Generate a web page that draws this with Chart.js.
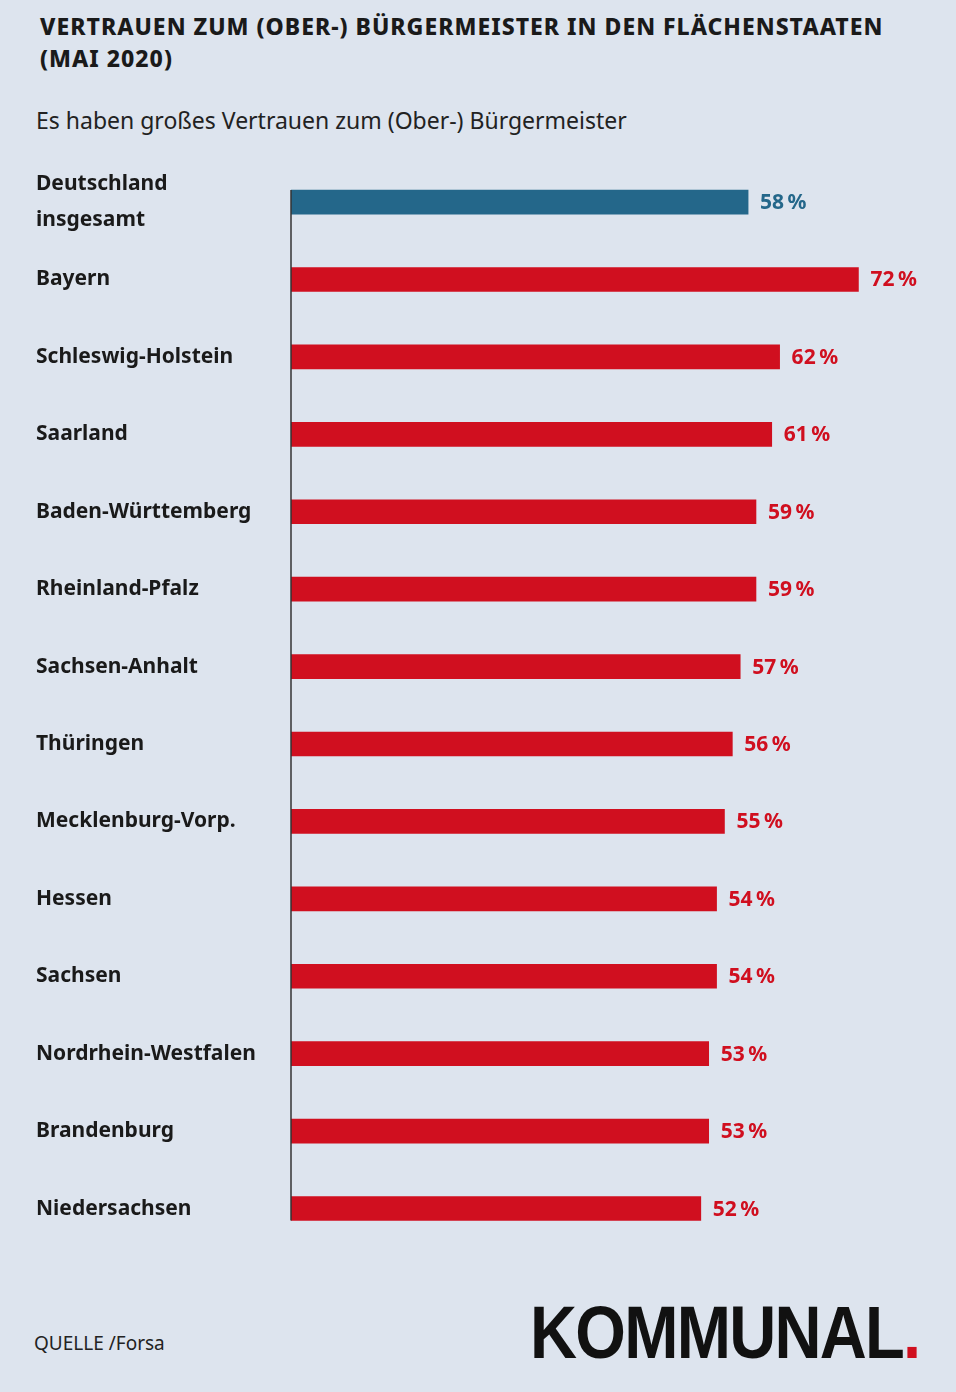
<!DOCTYPE html>
<html><head><meta charset="utf-8">
<script src="https://cdn.jsdelivr.net/npm/chart.js@4"></script>
<style>
  body { margin:0; background:#dde4ee; width:956px; height:1392px; position:relative; font-family:"Noto Sans", sans-serif; color:#1a1a1a; overflow:hidden; }
  h1 { position:absolute; left:40px; top:10px; margin:0; font-size:23px; line-height:32px; font-weight:800; letter-spacing:1px; width:880px; }
  .sub { position:absolute; left:36px; top:104px; font-size:23px; color:#222; }
  .src { position:absolute; left:34px; top:1330px; font-size:19px; color:#222; }
  .logo { position:absolute; left:530px; top:1290px; font-family:"Liberation Sans", sans-serif; font-weight:700; font-size:74px; letter-spacing:-2px; color:#111; transform:scaleX(0.88); transform-origin:left; }
  .logo span { color:#d00f1f; }
  #wrap { position:absolute; left:0; top:135px; width:956px; height:1159px; }
</style></head>
<body>
<h1>VERTRAUEN ZUM (OBER-) BÜRGERMEISTER IN DEN FLÄCHENSTAATEN (MAI 2020)</h1>
<div class="sub">Es haben großes Vertrauen zum (Ober-) Bürgermeister</div>
<div id="wrap"><canvas id="c"></canvas></div>
<div class="src">QUELLE /Forsa</div>
<div class="logo">KOMMUNAL<span>.</span></div>
<script>
// ── Data ──
var LABELS = [['Deutschland', 'insgesamt'], 'Bayern', 'Schleswig-Holstein', 'Saarland', 'Baden-Württemberg',
  'Rheinland-Pfalz', 'Sachsen-Anhalt', 'Thüringen', 'Mecklenburg-Vorp.', 'Hessen', 'Sachsen',
  'Nordrhein-Westfalen', 'Brandenburg', 'Niedersachsen'];
var VALUES = [58, 72, 62, 61, 59, 59, 57, 56, 55, 54, 54, 53, 53, 52];
var COLORS = VALUES.map(function (v, i) { return i === 0 ? '#24678a' : '#d00f1f'; });

new Chart(document.getElementById('c'), {
  type: 'bar',
  data: { labels: LABELS, datasets: [{ data: VALUES, backgroundColor: COLORS, barThickness: 24 }] },
  options: {
    indexAxis: 'y',
    responsive: true,
    maintainAspectRatio: false,
    animation: false,
    layout: { padding: { left: 36, right: 3, top: 0, bottom: 0 } },
    plugins: { legend: { display: false }, tooltip: { enabled: false } },
    scales: {
      x: { display: false, min: 0, max: 84 },
      y: {
        grid: { display: false },
        border: { display: false },
        ticks: { color: '#1a1a1a', crossAlign: 'far', font: { family: 'Noto Sans', size: 21, weight: 'bold', lineHeight: 1.75 }, padding: 10 },
        afterFit: function (s) { s.width = 255; },
      },
    },
  },
  plugins: [{
    id: 'valueLabels',
    afterDraw: function (chart) {
      var ctx = chart.ctx;
      var meta = chart.getDatasetMeta(0);
      var first = meta.data[0], last = meta.data[meta.data.length - 1];
      var x0 = chart.scales.x.getPixelForValue(0);
      ctx.save();
      // axis line only spans from the first bar's top to the last bar's bottom
      ctx.strokeStyle = '#333';
      ctx.lineWidth = 1.5;
      ctx.beginPath();
      ctx.moveTo(x0, first.y - first.height / 2);
      ctx.lineTo(x0, last.y + last.height / 2);
      ctx.stroke();
      ctx.font = 'bold 21px "Noto Sans"';
      ctx.textBaseline = 'middle';
      meta.data.forEach(function (bar, i) {
        ctx.fillStyle = COLORS[i];
        ctx.fillText(VALUES[i] + '\u2009%', bar.x + 12, bar.y + 1);
      });
      ctx.restore();
    },
  }],
});
</script>
</body></html>
